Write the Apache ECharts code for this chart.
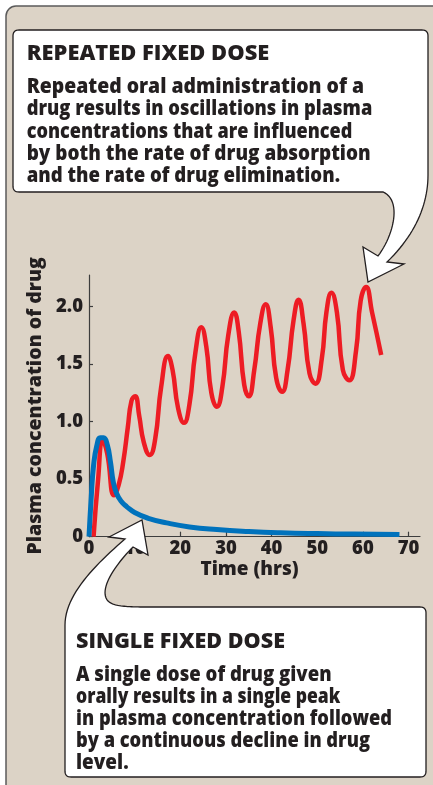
<!DOCTYPE html>
<html><head><meta charset="utf-8">
<script src="https://cdn.jsdelivr.net/npm/echarts@6/dist/echarts.min.js"></script>
<style>html,body{margin:0;padding:0;background:#fff;}#chart{width:433px;height:785px;}</style>
</head><body><div id="chart"></div>
<script>
// ---- data ----
const timeRepeated = [1.0,2.0,3.0,4.0,5.5,6.5,7.5,8.5,9.3,10.1,11.0,12.0,13.3,14.5,15.8,17.3,18.3,19.5,20.8,22.0,23.3,24.6,25.7,26.8,28.0,29.2,30.5,31.8,32.8,34.0,35.0,36.2,37.5,38.7,39.8,41.0,42.3,43.5,44.8,45.9,47.0,48.3,49.6,51.0,52.0,53.1,54.3,55.6,57.0,58.5,59.5,60.7,62.0,64.0];
const concRepeated = [0.00,0.50,0.84,0.72,0.36,0.45,0.65,0.95,1.18,1.22,1.05,0.82,0.71,0.85,1.30,1.57,1.45,1.12,0.99,1.15,1.60,1.82,1.65,1.25,1.13,1.30,1.75,1.95,1.78,1.32,1.22,1.45,1.85,2.02,1.82,1.38,1.26,1.45,1.88,2.06,1.85,1.42,1.33,1.55,1.95,2.12,1.95,1.45,1.36,1.62,2.05,2.17,1.95,1.58];
const timeSingle = [0,0.5,1.0,1.7,2.5,3.2,4.0,4.7,5.3,6.0,7.0,8.3,10,13,17,22,28,35,42,50,58,68];
const concSingle = [0,0.35,0.62,0.79,0.86,0.86,0.80,0.65,0.48,0.38,0.31,0.26,0.21,0.16,0.12,0.085,0.062,0.045,0.034,0.027,0.023,0.02];
const xTickValues = [0,10,20,30,40,50,60,70];
const yTickValues = [0,0.5,1,1.5,2];
const yTickLabels = ['0','0.5','1.0','1.5','2.0'];
const xAxisTitle = 'Time (hrs)';
const yAxisTitle = 'Plasma concentration of drug';
const topTitle = 'REPEATED FIXED DOSE';
const topLines = ['Repeated oral administration of a','drug results in oscillations in plasma','concentrations that are influenced','by both the rate of drug absorption','and the rate of drug elimination.'];
const bottomTitle = 'SINGLE FIXED DOSE';
const bottomLines = ['A single dose of drug given','orally results in a single peak','in plasma concentration followed','by a continuous decline in drug','level.'];

// ---- layout ----
const INK = '#231f20';
const FONT = '"Open Sans", sans-serif';
const WEIGHT = 800;
const topTitleW = 242.6, topWidths = [337.3,345.6,325.6,344,313.3];
const botTitleW = 209, botWidths = [255.6,264.3,316,294,52.6];
const measCtx = document.createElement('canvas').getContext('2d');
function txt(str, x, yMid, width, size){
  const f = WEIGHT + ' ' + size + 'px ' + FONT;
  measCtx.font = f;
  const w = measCtx.measureText(str).width;
  return {type:'text', x:x, y:yMid, scaleX: width / w, z:110, silent:true,
    style:{text:str, font:f, fill:INK, align:'left', verticalAlign:'middle'}};
}
// sample a simple absolute path (M L Q C Z) into polygon points
function samplePath(d){
  const tok = d.match(/[MLQCZ]|-?\d*\.?\d+/g);
  const pts = []; let i = 0, cmd = '', cx = 0, cy = 0;
  const num = () => parseFloat(tok[i++]);
  while (i < tok.length){
    if (/[MLQCZ]/.test(tok[i])) cmd = tok[i++];
    if (cmd === 'Z') break;
    if (cmd === 'M' || cmd === 'L'){ cx = num(); cy = num(); pts.push([cx, cy]); }
    else if (cmd === 'Q'){
      const x1=num(), y1=num(), x2=num(), y2=num();
      for (let k=1;k<=12;k++){const t=k/12, u=1-t; pts.push([u*u*cx+2*u*t*x1+t*t*x2, u*u*cy+2*u*t*y1+t*t*y2]);}
      cx=x2; cy=y2;
    } else if (cmd === 'C'){
      const x1=num(), y1=num(), x2=num(), y2=num(), x3=num(), y3=num();
      for (let k=1;k<=24;k++){const t=k/24, u=1-t;
        pts.push([u*u*u*cx+3*u*u*t*x1+3*u*t*t*x2+t*t*t*x3, u*u*u*cy+3*u*u*t*y1+3*u*t*t*y2+t*t*t*y3]);}
      cx=x3; cy=y3;
    }
  }
  return pts;
}
const graphics = [];
graphics.push({type:'rect', z:-100, silent:true, shape:{x:6,y:6,width:440,height:800,r:10},
  style:{fill:'#dcd3c6', stroke:'#5b5b5b', lineWidth:1.5}});
graphics.push({type:'polygon', z:100, silent:true, shape:{points:samplePath(
  'M19 30 L422 30 Q428 30 428 36 L428 175 C428 205 415 235 387 262 L404 264 L368 282 L363 247 L378 256 C394 235 402 200 383 192 L19 192 Q13 192 13 186 L13 36 Q13 30 19 30 Z')},
  style:{fill:'#fff', stroke:INK, lineWidth:1.3, lineJoin:'miter'}});
graphics.push({type:'polygon', z:100, silent:true, shape:{points:samplePath(
  'M420 607 Q426 607 426 613 L426 771 Q426 777 420 777 L71 777 Q65 777 65 771 L65 625 C65 595 95 565 125 539 L109 537 L142 520 L148 555 L133 547 C115 565 98 590 108 601 C113 606 125 607 145 607 L420 607 Z')},
  style:{fill:'#fff', stroke:INK, lineWidth:1.3, lineJoin:'miter'}});
const off = 6.5;
graphics.push(txt(topTitle, 26.7, 60 - off, topTitleW, 21.5));
topLines.forEach((s,i)=>graphics.push(txt(s, 26.7, 93.3 + i*22.4 - off, topWidths[i], 21)));
graphics.push(txt(bottomTitle, 76, 648 - off, botTitleW, 21.5));
bottomLines.forEach((s,i)=>graphics.push(txt(s, 76, 681.7 + i*21.9 - off, botWidths[i], 21)));

const chart = echarts.init(document.getElementById('chart'), null, {renderer:'canvas'});
const axisCol = '#3d3d3d';
chart.setOption({
  backgroundColor:'#ffffff',
  animation:false,
  grid:{left:89, top:275, width:331, height:261.7},
  xAxis:{type:'value', min:0, max:72.5, interval:10,
    name:xAxisTitle, nameLocation:'middle', nameGap:22.5,
    nameTextStyle:{fontFamily:FONT, fontWeight:WEIGHT, fontSize:19, color:INK, padding:[0,10,0,0]},
    axisLine:{lineStyle:{color:axisCol, width:1.2}},
    axisTick:{inside:true, length:5, customValues:xTickValues, lineStyle:{color:axisCol, width:1.2}},
    axisLabel:{customValues:xTickValues, margin:3, fontFamily:FONT, fontWeight:WEIGHT, fontSize:18.5, color:INK},
    splitLine:{show:false}},
  yAxis:{type:'value', min:0, max:2.275, interval:0.5,
    name:yAxisTitle, nameLocation:'middle', nameGap:42, nameRotate:90,
    nameTextStyle:{fontFamily:FONT, fontWeight:WEIGHT, fontSize:19.5, color:INK},
    axisLine:{show:true, lineStyle:{color:axisCol, width:1.2}},
    axisTick:{show:true, inside:true, length:4, customValues:yTickValues, lineStyle:{color:axisCol, width:1.2}},
    axisLabel:{customValues:yTickValues, margin:6, fontFamily:FONT, fontWeight:WEIGHT, fontSize:18.5, color:INK,
      formatter:(v)=>{const i=yTickValues.findIndex(t=>Math.abs(t-v)<1e-9); return i>=0?yTickLabels[i]:'';}},
    splitLine:{show:false}},
  series:[
    {type:'line', name:'Repeated fixed dose', data:timeRepeated.map((t,i)=>[t,concRepeated[i]]),
      smooth:0.5, showSymbol:false, symbol:'none', clip:false,
      lineStyle:{color:'#ed1c24', width:4.5, cap:'butt', join:'round'}, z:3},
    {type:'line', name:'Single fixed dose', data:timeSingle.map((t,i)=>[t,concSingle[i]]),
      smooth:0.5, showSymbol:false, symbol:'none', clip:false,
      lineStyle:{color:'#0072bc', width:5, cap:'butt', join:'round'}, z:4}
  ],
  graphic:graphics
});
</script></body></html>
